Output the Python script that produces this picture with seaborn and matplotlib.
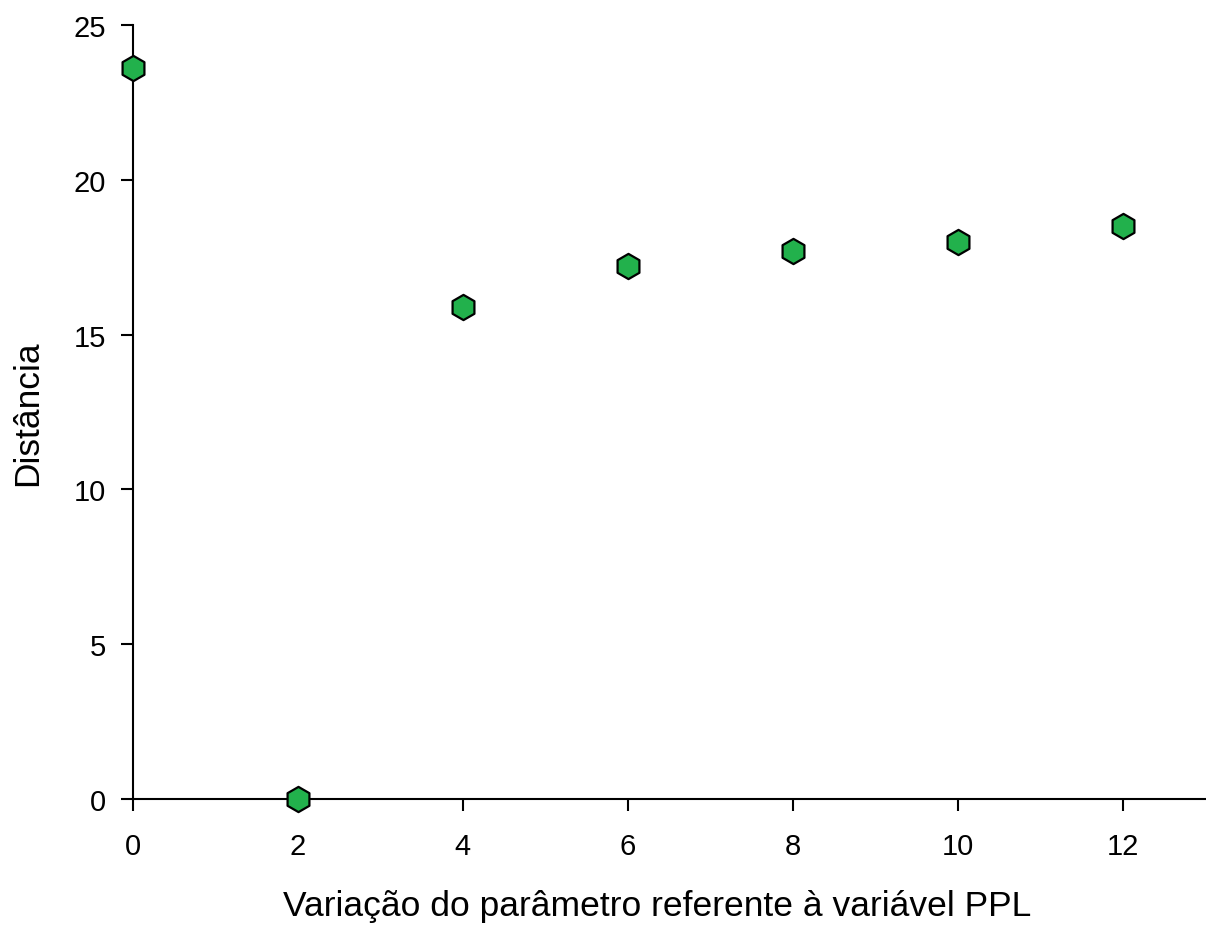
import matplotlib
matplotlib.use("Agg")
import matplotlib.pyplot as plt
import seaborn as sns
import pandas as pd

# values
variacao = [0, 2, 4, 6, 8, 10, 12]
distancia = [23.6, 0.0, 15.9, 17.2, 17.7, 18.0, 18.5]
x_ticks = [0, 2, 4, 6, 8, 10, 12]
y_ticks = [0, 5, 10, 15, 20, 25]


def plot_distancia():
    sns.set_theme(style="ticks")
    plt.rcParams['font.family'] = ['Liberation Sans', 'DejaVu Sans']

    df = pd.DataFrame({'variacao': variacao, 'distancia': distancia})

    fig = plt.figure(figsize=(12.06, 9.28), dpi=100)
    ax = fig.add_axes([0.1103, 0.1379, 0.8889, 0.8341])

    sns.scatterplot(data=df, x='variacao', y='distancia', ax=ax,
                    marker='h', s=330, color='#22b14c', edgecolor='black',
                    linewidth=1.6, zorder=5, clip_on=False)

    ax.set_xlim(0, 13)
    ax.set_ylim(0, 25)
    ax.set_xticks(x_ticks)
    ax.set_yticks(y_ticks)
    ax.tick_params(axis='both', labelsize=21, length=8.5, width=1.5,
                   direction='out', colors='black')
    ax.tick_params(axis='x', pad=15)
    ax.tick_params(axis='y', pad=11)
    for side in ['top', 'right']:
        ax.spines[side].set_visible(False)
    for side in ['left', 'bottom']:
        ax.spines[side].set_linewidth(1.5)
        ax.spines[side].set_color('black')

    ax.set_xlabel('Variação do parâmetro referente à variável PPL',
                  fontsize=25.5, color='black')
    # label sits a bit left of the axis centre in the original
    ax.xaxis.set_label_coords(0.489, -0.116)
    ax.set_ylabel('Distância', fontsize=25.5, labelpad=21, color='black')

    fig.savefig('out.png', dpi=100)
    plt.close(fig)


if __name__ == "__main__":
    plot_distancia()
